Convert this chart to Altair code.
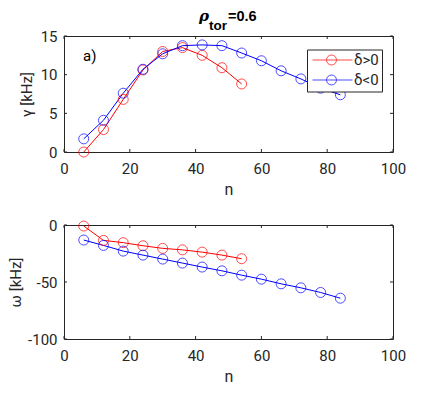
import altair as alt
import pandas as pd

n_pos = [6, 12, 18, 24, 30, 36, 42, 48, 54]
n_neg = [6, 12, 18, 24, 30, 36, 42, 48, 54, 60, 66, 72, 78, 84]
gamma_pos = [0.0, 2.9, 6.8, 10.6, 13.0, 13.5, 12.5, 10.9, 8.8]
gamma_neg = [1.7, 4.1, 7.6, 10.7, 12.7, 13.75, 13.85, 13.75, 12.8, 11.8, 10.5, 9.45, 8.25, 7.4]
omega_pos = [-0.9, -13.5, -15.5, -18.2, -20.5, -21.8, -23.8, -26.4, -29.6]
omega_neg = [-13.2, -17.9, -22.9, -26.4, -29.9, -33.4, -36.9, -40.2, -44.0, -47.5, -51.6, -55.1, -59.2, -64.2]
labels = ["δ>0", "δ<0"]
colors = ["#ff0000", "#0000ff"]
x_ticks = [0, 20, 40, 60, 80, 100]
gamma_ticks = [0, 5, 10, 15]
omega_ticks = [-100, -50, 0]

W, H1, H2 = 329, 116, 114
FONT = "Roboto"
TFONT = "Liberation Sans"
AX = "#262626"

df1 = pd.DataFrame({
    "n": n_pos + n_neg,
    "v": gamma_pos + gamma_neg,
    "s": [labels[0]] * len(n_pos) + [labels[1]] * len(n_neg),
})
df2 = pd.DataFrame({
    "n": n_pos + n_neg,
    "v": omega_pos + omega_neg,
    "s": [labels[0]] * len(n_pos) + [labels[1]] * len(n_neg),
})

sym = ("M-0.714,0L5,0 M2.714,0A0.714,0.714,0,1,1,1.286,0"
       "A0.714,0.714,0,1,1,2.714,0")


def panel(df, ydom, yticks, ytitle, H, with_legend, tpad, extra=None):
    xs = alt.Scale(domain=[0, 100], nice=False)
    ys = alt.Scale(domain=ydom, nice=False)
    xax = alt.Axis(values=x_ticks, ticks=False, domain=False, grid=False,
                   labelFont=FONT, labelFontSize=15, labelColor=AX,
                   labelPadding=9, titleFont=FONT, titleFontSize=16,
                   titleFontWeight="normal", titleColor=AX, titlePadding=5,
                   labelFlush=False, labelOverlap=False)
    yax = alt.Axis(values=yticks, ticks=False, domain=False, grid=False,
                   labelFont=FONT, labelFontSize=15, labelColor=AX,
                   labelPadding=7, titleFont=FONT, titleFontSize=15,
                   titleFontWeight="normal", titleColor=AX, titlePadding=tpad,
                   labelFlush=False, labelOverlap=False,
                   labelExpr="datum.value + ''")
    cscale = alt.Scale(domain=labels, range=colors)
    if with_legend:
        leg = alt.Legend(
            title=None, orient="none", legendX=243, legendY=13.5,
            symbolType=sym, symbolSize=196, symbolStrokeWidth=1,
            symbolFillColor="transparent",
            labelFont=FONT, labelFontSize=15, labelColor=AX,
            labelOffset=29, rowPadding=4, padding=3,
            strokeColor=AX, fillColor="white", cornerRadius=0,
        )
    else:
        leg = None
    X = alt.X("n:Q", scale=xs, axis=xax, title="n")
    Y = alt.Y("v:Q", scale=ys, axis=yax, title=ytitle)
    base = alt.Chart(df)
    line = base.mark_line(strokeWidth=1).encode(
        x=X, y=Y, color=alt.Color("s:N", scale=cscale, legend=leg),
    )
    pts = base.mark_point(shape="circle", size=100, filled=False, strokeWidth=1).encode(
        x=X, y=Y, color=alt.Color("s:N", scale=cscale, legend=leg),
    )
    xt = alt.Chart(pd.DataFrame({"n": x_ticks}))
    yt = alt.Chart(pd.DataFrame({"v": yticks}))
    tl = 3
    ticks = [
        xt.mark_rule(color=AX, strokeWidth=1).encode(x=X, y=alt.value(H), y2=alt.value(H - tl)),
        xt.mark_rule(color=AX, strokeWidth=1).encode(x=X, y=alt.value(0), y2=alt.value(tl)),
        yt.mark_rule(color=AX, strokeWidth=1).encode(y=Y, x=alt.value(0), x2=alt.value(tl)),
        yt.mark_rule(color=AX, strokeWidth=1).encode(y=Y, x=alt.value(W), x2=alt.value(W - tl)),
    ]
    layers = [line, pts] + ticks + (extra or [])
    return alt.layer(*layers).properties(width=W, height=H)


one = alt.Chart(pd.DataFrame({"a": [0]}))
title_rho = one.mark_text(text="ρ", font="DejaVu Serif", fontSize=15, fontStyle="italic",
                          fontWeight="bold", align="left", baseline="alphabetic",
                          color="black").encode(x=alt.value(135), y=alt.value(-15))
title_tor = one.mark_text(text="tor", font=TFONT, fontSize=13.5, fontWeight="bold",
                          align="left", baseline="alphabetic",
                          color="black").encode(x=alt.value(145), y=alt.value(-6))
title_eq = one.mark_text(text="=0.6", font=TFONT, fontSize=14.5, fontWeight="bold",
                         align="left", baseline="alphabetic",
                         color="black").encode(x=alt.value(164), y=alt.value(-15))
label_a = one.mark_text(text="a)", font=FONT, fontSize=15, align="left",
                        baseline="alphabetic", color="black").encode(x=alt.value(19), y=alt.value(25))

top = panel(df1, [0, 15], gamma_ticks, "γ [kHz]", H1, True, 6,
            [title_rho, title_tor, title_eq, label_a])
bot = panel(df2, [-100, 0], omega_ticks, "ω [kHz]", H2, False, 4)

chart = alt.vconcat(top, bot, spacing=19).resolve_scale(
    color="independent"
).properties(
    padding={"left": 0, "top": 0, "right": 5, "bottom": 5},
    background="white",
).configure_view(stroke=AX, strokeWidth=1)

chart.save("out.html", embed_options={"renderer": "svg", "actions": False})
